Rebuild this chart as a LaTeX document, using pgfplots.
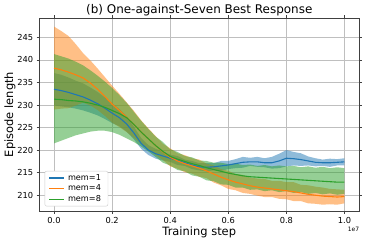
\documentclass[border=0pt]{standalone}
\usepackage{fontspec}
\setmainfont{DejaVu Sans}
\usepackage{pgfplots}
\pgfplotsset{compat=1.18}
\usepackage{pgfplotstable}
\usepgfplotslibrary{fillbetween}
\definecolor{c0}{HTML}{1F77B4}
\definecolor{c1}{HTML}{FF7F0E}
\definecolor{c2}{HTML}{2CA02C}

\pgfplotstableread{
x     m1    s1   m4    s4   m8    l8    u8
0.000 233.5 3.6  238.2 9.2  231.3 221.5 241.3
0.025 233.2 3.5  237.8 8.6  231.2 222.1 240.8
0.050 232.8 3.3  237.3 8.0  231.0 222.7 240.3
0.075 232.3 3.1  236.7 6.8  230.9 223.3 239.6
0.100 231.8 3.0  236.0 5.5  230.7 223.7 238.8
0.125 231.1 2.8  234.9 5.0  230.4 224.1 237.7
0.150 230.3 2.6  233.5 4.6  230.0 224.3 236.5
0.175 229.3 2.4  231.9 4.3  229.5 224.3 235.2
0.200 228.2 2.2  230.2 4.1  228.8 224.0 233.8
0.225 227.2 1.9  228.8 3.7  228.1 223.4 232.2
0.250 225.8 1.7  227.3 3.3  227.2 222.6 230.5
0.275 223.8 1.4  225.7 3.0  225.7 221.8 228.5
0.300 221.5 1.2  224.0 2.6  224.0 220.8 226.5
0.325 220.0 1.1  222.5 2.3  222.5 219.7 224.7
0.350 219.2 1.1  221.0 2.1  221.0 218.5 223.0
0.375 218.7 1.0  219.6 1.8  219.7 217.2 221.8
0.400 218.2 0.8  218.4 2.0  218.6 216.6 220.2
0.425 217.7 1.0  217.6 1.7  218.0 215.6 219.6
0.450 217.2 0.7  217.0 1.9  217.5 215.3 218.7
0.475 216.7 0.9  216.5 1.7  217.0 214.4 218.4
0.500 216.3 0.8  216.0 1.9  216.6 214.1 217.7
0.525 216.2 0.9  215.4 1.6  216.1 213.3 217.6
0.550 216.3 0.8  214.7 1.9  215.7 213.1 217.2
0.575 216.5 1.1  214.0 1.8  215.3 212.4 217.2
0.600 216.7 0.9  213.4 2.0  214.9 212.3 216.9
0.625 217.0 1.0  212.9 1.8  214.6 211.7 217.0
0.650 217.3 1.2  212.5 2.0  214.3 211.7 216.7
0.675 217.4 0.9  212.1 1.8  214.1 211.2 216.8
0.700 217.4 1.1  211.8 1.9  214.0 211.3 216.5
0.725 217.2 1.0  211.6 2.0  213.9 210.9 216.7
0.750 217.2 1.3  211.4 1.8  213.8 211.1 216.4
0.775 217.6 1.6  211.2 2.0  213.7 210.7 216.6
0.800 218.2 1.8  211.0 1.9  213.6 210.9 216.4
0.825 218.1 1.5  210.8 2.1  213.5 210.5 216.5
0.850 217.9 1.4  210.5 1.8  213.4 210.7 216.2
0.875 217.6 1.0  210.2 2.0  213.3 210.3 216.4
0.900 217.3 0.9  210.0 1.9  213.2 210.5 216.1
0.925 217.2 0.7  209.8 1.9  213.1 210.2 216.3
0.950 217.2 0.9  209.7 1.7  213.0 210.4 216.0
0.975 217.3 0.7  209.6 1.7  212.9 210.1 216.2
1.000 217.4 0.8  209.7 1.5  212.9 210.3 216.0
}\data

\begin{document}
\begin{tikzpicture}
\begin{axis}[
  scale only axis, width=319.5bp, height=193bp,
  xmin=-0.05, xmax=1.05, ymin=206.5, ymax=249.3,
  xtick={0,0.2,0.4,0.6,0.8,1.0}, ytick={210,215,220,225,230,235,240,245},
  grid=major, grid style={color=black!25, line width=0.6bp},
  axis line style={line width=0.7bp, color=black!75},
  tick align=outside, major tick length=2.8bp,
  tick style={color=black!75, line width=0.6bp},
  /pgf/number format/assume math mode=true,
  xticklabel style={font=\fontsize{8.3}{9}\selectfont, /pgf/number format/.cd, fixed, fixed zerofill, precision=1},
  yticklabel style={font=\fontsize{8.3}{9}\selectfont},
  xlabel={Training step}, ylabel={Episode length},
  label style={font=\fontsize{11.5}{13}\selectfont},
  xlabel style={yshift=3.5bp},
  ylabel shift=-5bp,
  title={(b) One-against-Seven Best Response},
  title style={font=\fontsize{12}{14}\selectfont, yshift=-7.5bp},
  legend style={at={(axis description cs:0.016,0.024)}, anchor=south west,
    font=\fontsize{8.2}{9}\selectfont, draw=black!20, rounded corners=2bp,
    fill=white, inner xsep=4bp, inner ysep=1.5bp,
    nodes={inner ysep=1.6bp, inner xsep=3bp}},
  legend cell align=left,
  legend image code/.code={\draw[#1, line width=1.2bp, draw opacity=1] (0bp,0bp) -- (15bp,0bp);},
]
\addplot[c0, line width=1.1bp] table[x=x, y=m1]{\data};
\addlegendentry{mem=1}
\addplot[name path=u1, draw=none, forget plot] table[x=x, y expr=\thisrow{m1}+\thisrow{s1}]{\data};
\addplot[name path=l1, draw=none, forget plot] table[x=x, y expr=\thisrow{m1}-\thisrow{s1}]{\data};
\addplot[fill=c0, fill opacity=0.5, draw=none, forget plot] fill between[of=u1 and l1];

\addplot[c1, line width=1.1bp] table[x=x, y=m4]{\data};
\addlegendentry{mem=4}
\addplot[name path=u4, draw=none, forget plot] table[x=x, y expr=\thisrow{m4}+\thisrow{s4}]{\data};
\addplot[name path=l4, draw=none, forget plot] table[x=x, y expr=\thisrow{m4}-\thisrow{s4}]{\data};
\addplot[fill=c1, fill opacity=0.5, draw=none, forget plot] fill between[of=u4 and l4];

\addplot[c2, line width=1.1bp] table[x=x, y=m8]{\data};
\addlegendentry{mem=8}
\addplot[name path=u8, draw=none, forget plot] table[x=x, y=u8]{\data};
\addplot[name path=l8, draw=none, forget plot] table[x=x, y=l8]{\data};
\addplot[fill=c2, fill opacity=0.5, draw=none, forget plot] fill between[of=u8 and l8];
\end{axis}
\node[font=\fontsize{6}{7}\selectfont, inner sep=0pt] at ([xshift=-5.5bp, yshift=-18bp]current axis.south east) {1e7};
\pgfresetboundingbox
\path[use as bounding box] (-39.5bp,-33bp) rectangle (326.5bp,211bp);
\end{tikzpicture}
\end{document}
